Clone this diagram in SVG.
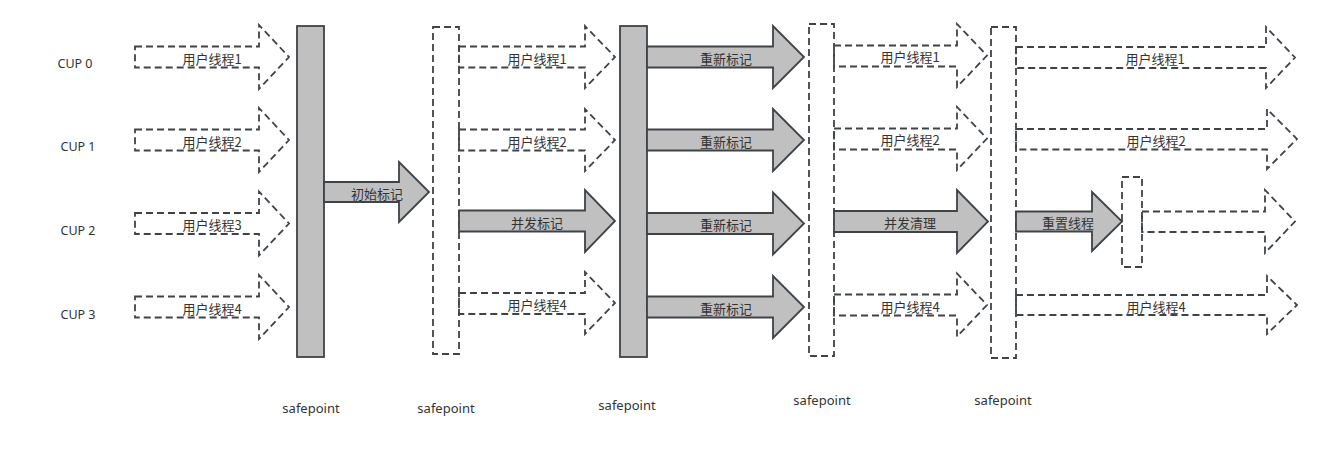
<svg xmlns="http://www.w3.org/2000/svg" width="1321" height="454" viewBox="0 0 1321 454">
<style>
.bg{fill:#ffffff}
.bar{fill:#c0c0c0;stroke:#3e4348;stroke-width:1.8}
.dbar{fill:none;stroke:#3e4348;stroke-width:1.8;stroke-dasharray:7 4}
.arr{fill:#c0c0c0;stroke:#3e4348;stroke-width:1.8;stroke-linejoin:miter}
.darr{fill:none;stroke:#3e4348;stroke-width:1.8;stroke-dasharray:7 4}
.lbl{font-family:"Noto Sans CJK SC","Noto Sans",sans-serif;font-size:13px;fill:#333333;text-anchor:middle}
.cup{font-family:"Noto Sans","Noto Sans CJK SC",sans-serif;font-size:12.5px;fill:#333333;text-anchor:middle}
.sp{font-family:"Noto Sans","Noto Sans CJK SC",sans-serif;font-size:13px;fill:#333333;text-anchor:middle}
</style>
<rect class="bg" x="0" y="0" width="1321" height="454"/>

<g id="cpu-labels">
<text class="cup" x="75" y="67.5">CUP 0</text>
<text class="cup" x="78" y="151">CUP 1</text>
<text class="cup" x="78" y="234.5">CUP 2</text>
<text class="cup" x="78" y="318.5">CUP 3</text>
</g>

<g id="safepoints">
<g id="sp1"><rect class="bar" x="297" y="26" width="27" height="331"/><text class="sp" x="311" y="413">safepoint</text></g>
<g id="sp2"><rect class="dbar" x="433" y="27" width="26" height="327"/><text class="sp" x="446" y="413">safepoint</text></g>
<g id="sp3"><rect class="bar" x="620" y="26" width="27" height="331"/><text class="sp" x="627" y="409.5">safepoint</text></g>
<g id="sp4"><rect class="dbar" x="809" y="24" width="25" height="332"/><text class="sp" x="822" y="405">safepoint</text></g>
<g id="sp5"><rect class="dbar" x="991" y="27" width="25" height="331"/><text class="sp" x="1003" y="405">safepoint</text></g>
<g id="sp6"><rect class="dbar" x="1122" y="177" width="20" height="90"/></g>
</g>

<g id="connectors">
<g id="c1-t1"><path class="darr" d="M135,46.5 L259,46.5 L259,25 L289,57 L259,89 L259,67.5 L135,67.5 Z"/><text class="lbl" x="212" y="63.5">用户线程1</text></g>
<g id="c1-t2"><path class="darr" d="M135,129.5 L259,129.5 L259,108 L289,140 L259,172 L259,150.5 L135,150.5 Z"/><text class="lbl" x="212" y="146.5">用户线程2</text></g>
<g id="c1-t3"><path class="darr" d="M135,213 L259,213 L259,191.5 L289,223.5 L259,255.5 L259,234 L135,234 Z"/><text class="lbl" x="212" y="230">用户线程3</text></g>
<g id="c1-t4"><path class="darr" d="M135,296.5 L259,296.5 L259,275 L289,307 L259,339 L259,317.5 L135,317.5 Z"/><text class="lbl" x="212" y="313.5">用户线程4</text></g>

<g id="init-mark"><path class="arr" d="M324,182 L399,182 L399,162 L429,192 L399,222 L399,202 L324,202 Z"/><text class="lbl" x="377" y="198.5">初始标记</text></g>

<g id="c2-t1"><path class="darr" d="M459,46.5 L585,46.5 L585,26 L615,57 L585,88 L585,67.5 L459,67.5 Z"/><text class="lbl" x="537" y="63.5">用户线程1</text></g>
<g id="c2-t2"><path class="darr" d="M459,129.5 L585,129.5 L585,109 L615,140 L585,171 L585,150.5 L459,150.5 Z"/><text class="lbl" x="537" y="146.5">用户线程2</text></g>
<g id="c2-cm"><path class="arr" d="M459,210.5 L585,210.5 L585,190 L615,221 L585,252 L585,231.5 L459,231.5 Z"/><text class="lbl" x="537" y="227.5">并发标记</text></g>
<g id="c2-t4"><path class="darr" d="M459,293 L585,293 L585,272 L615,303 L585,334 L585,314 L459,314 Z"/><text class="lbl" x="537" y="309.5">用户线程4</text></g>

<g id="c3-r1"><path class="arr" d="M647,46.5 L773,46.5 L773,26 L804,57 L773,88 L773,67.5 L647,67.5 Z"/><text class="lbl" x="726" y="63.5">重新标记</text></g>
<g id="c3-r2"><path class="arr" d="M647,129.5 L773,129.5 L773,109 L804,140 L773,171 L773,150.5 L647,150.5 Z"/><text class="lbl" x="726" y="146.5">重新标记</text></g>
<g id="c3-r3"><path class="arr" d="M647,213 L773,213 L773,192.5 L804,223.5 L773,254.5 L773,234 L647,234 Z"/><text class="lbl" x="726" y="230">重新标记</text></g>
<g id="c3-r4"><path class="arr" d="M647,296.5 L773,296.5 L773,276 L804,307 L773,338 L773,317.5 L647,317.5 Z"/><text class="lbl" x="726" y="313.5">重新标记</text></g>

<g id="c4-t1"><path class="darr" d="M834,45.5 L957,45.5 L957,24 L987,55.5 L957,87 L957,66.5 L834,66.5 Z"/><text class="lbl" x="910" y="62">用户线程1</text></g>
<g id="c4-t2"><path class="darr" d="M834,128.5 L957,128.5 L957,107 L987,138.5 L957,170 L957,149.5 L834,149.5 Z"/><text class="lbl" x="910" y="145">用户线程2</text></g>
<g id="c4-cc"><path class="arr" d="M834,211 L957,211 L957,190 L988,221.5 L957,253 L957,232 L834,232 Z"/><text class="lbl" x="910" y="228">并发清理</text></g>
<g id="c4-t4"><path class="darr" d="M834,294.5 L957,294.5 L957,273.5 L987,305 L957,336.5 L957,315.5 L834,315.5 Z"/><text class="lbl" x="910" y="311.5">用户线程4</text></g>

<g id="c5-t1"><path class="darr" d="M1016,47 L1266,47 L1266,27 L1295,57.5 L1266,88 L1266,68 L1016,68 Z"/><text class="lbl" x="1155" y="64">用户线程1</text></g>
<g id="c5-t2"><path class="darr" d="M1016,129 L1267,129 L1267,109 L1297,139 L1267,169 L1267,149.5 L1016,149.5 Z"/><text class="lbl" x="1156" y="145.5">用户线程2</text></g>
<g id="c5-reset"><path class="arr" d="M1016,211.5 L1092,211.5 L1092,192 L1122,221.5 L1092,251 L1092,231.5 L1016,231.5 Z"/><text class="lbl" x="1068" y="228">重置线程</text></g>
<g id="c5-t3"><path class="darr" d="M1142,211.5 L1265,211.5 L1265,190 L1295,221.5 L1265,253 L1265,232 L1142,232 Z"/></g>
<g id="c5-t4"><path class="darr" d="M1016,295 L1267,295 L1267,276 L1297,305 L1267,334 L1267,315 L1016,315 Z"/><text class="lbl" x="1156" y="311.5">用户线程4</text></g>
</g>
</svg>
